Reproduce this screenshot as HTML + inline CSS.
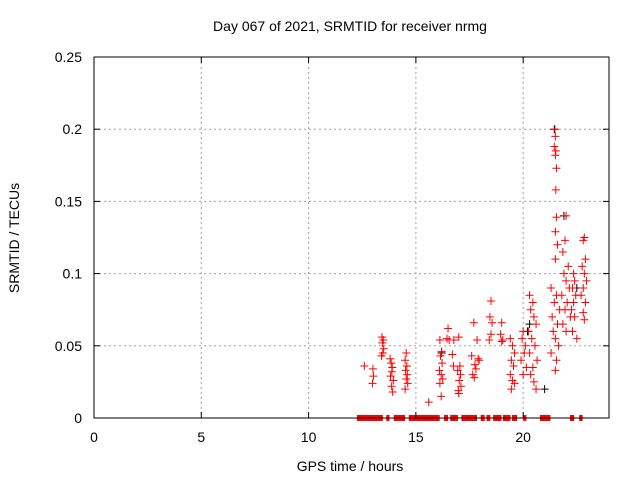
<!DOCTYPE html>
<html><head><meta charset="utf-8"><style>
html,body{margin:0;padding:0;background:#fff;}
svg{display:block;font-family:"Liberation Sans",sans-serif;}
</style></head><body>
<svg id="chart" width="640" height="480" viewBox="0 0 640 480" xmlns="http://www.w3.org/2000/svg">
<rect width="640" height="480" fill="#fff"/>
<text x="350" y="31" font-size="14" text-anchor="middle">Day 067 of 2021, SRMTID for receiver nrmg</text>
<text x="350" y="471" font-size="14" text-anchor="middle">GPS time / hours</text>
<text x="19" y="238" font-size="14" text-anchor="middle" transform="rotate(-90 19 238)">SRMTID / TECUs</text>
<g id="grid"></g><g id="marks"></g><g id="axes"></g>
</svg>
<script>
const xTicks=[0,5,10,15,20];
const xTickLabels=["0","5","10","15","20"];
const yTicks=[0,0.05,0.1,0.15,0.2,0.25];
const yTickLabels=["0","0.05","0.1","0.15","0.2","0.25"];
const redTimes=[12.6,13.0,13.02,12.98,13.42,13.48,13.44,13.5,13.46,13.4,13.8,13.85,13.9,13.88,13.82,13.95,13.87,13.92,14.55,14.5,14.58,14.52,14.6,14.55,14.62,14.5,15.6,16.12,16.2,16.15,16.22,16.1,16.18,16.25,16.12,16.18,16.5,16.45,16.55,16.77,16.7,16.75,17.0,17.05,16.95,17.08,17.02,17.1,16.98,17.0,17.7,17.85,17.6,17.9,17.75,17.8,17.65,17.72,17.95,18.5,18.45,18.55,18.5,18.42,19.0,18.95,19.05,19.0,19.4,19.5,19.6,19.45,19.55,19.4,19.5,19.6,19.45,20.0,19.95,20.1,20.05,19.9,20.15,20.0,20.3,20.45,20.35,20.5,20.6,20.25,20.4,20.55,20.3,20.65,20.45,20.35,20.5,20.6,21.48,21.5,21.45,21.52,21.5,21.55,21.52,21.55,21.5,21.6,21.5,21.3,21.55,21.45,21.7,21.35,21.6,21.4,21.5,21.65,21.3,21.55,21.5,22.0,21.95,21.85,22.1,21.9,22.0,22.15,21.8,22.05,21.95,22.2,21.85,22.0,22.35,22.4,22.3,22.45,22.35,22.25,22.4,22.3,22.5,22.85,22.8,22.9,22.75,22.85,22.95,22.8,22.7,22.9,22.8,22.85];
const redValues=[0.036,0.034,0.029,0.024,0.056,0.054,0.052,0.048,0.045,0.043,0.041,0.038,0.035,0.032,0.029,0.026,0.022,0.018,0.045,0.040,0.036,0.033,0.030,0.027,0.024,0.020,0.011,0.054,0.046,0.043,0.038,0.033,0.030,0.027,0.024,0.015,0.062,0.055,0.054,0.054,0.044,0.036,0.056,0.036,0.033,0.030,0.026,0.022,0.019,0.017,0.066,0.054,0.043,0.041,0.037,0.034,0.030,0.028,0.040,0.081,0.070,0.066,0.058,0.054,0.066,0.058,0.054,0.053,0.055,0.050,0.045,0.040,0.036,0.030,0.026,0.024,0.020,0.060,0.055,0.050,0.045,0.040,0.035,0.030,0.085,0.080,0.075,0.070,0.065,0.060,0.055,0.050,0.045,0.040,0.035,0.030,0.025,0.020,0.200,0.195,0.188,0.185,0.182,0.173,0.158,0.139,0.129,0.120,0.110,0.090,0.085,0.080,0.075,0.070,0.065,0.060,0.055,0.050,0.045,0.040,0.033,0.140,0.123,0.115,0.105,0.100,0.095,0.090,0.085,0.080,0.075,0.070,0.065,0.060,0.100,0.095,0.090,0.085,0.080,0.075,0.070,0.060,0.055,0.125,0.123,0.110,0.105,0.100,0.095,0.090,0.085,0.080,0.073,0.068];
const blackTimes=[21.45,21.9,20.3,21.0,20.2,22.5,16.2];
const blackValues=[0.2,0.14,0.065,0.02,0.06,0.09,0.045];
const zeroStarts=[12.25,13.62,13.97,14.67,16.31,16.6,17.12,18.02,18.29,18.6,19.06,19.48,20.0,20.78,22.18,22.61];
const zeroEnds=[13.46,13.77,14.5,16.11,16.5,16.96,17.85,18.21,18.47,18.99,19.41,19.72,20.15,21.27,22.38,22.77];

const L=94,R=609,T=57,B=418;
const xs=t=>L+(t/24)*(R-L);
const ys=v=>B-(v/0.25)*(B-T);
const NS="http://www.w3.org/2000/svg";
function mk(tag,attrs,parent){const e=document.createElementNS(NS,tag);for(const k in attrs)e.setAttribute(k,attrs[k]);parent.appendChild(e);return e;}
const grid=document.getElementById('grid'),marks=document.getElementById('marks'),axes=document.getElementById('axes');
xTicks.forEach((t,i)=>{
  const x=xs(t);
  if(t>0){const g=mk('line',{x1:x,x2:x,y1:T,y2:B,stroke:'#a0a0a0','stroke-dasharray':'2,3','stroke-width':1},grid);
  
  }
  mk('line',{x1:x,x2:x,y1:B,y2:B-6,stroke:'#000'},axes);
  mk('line',{x1:x,x2:x,y1:T,y2:T+6,stroke:'#000'},axes);
  const tx=mk('text',{x:x,y:B+24,'font-size':14,'text-anchor':'middle'},axes);
  tx.textContent=xTickLabels[i];
  
  
});
yTicks.forEach((v,i)=>{
  const y=ys(v);
  if(v>0&&v<0.25){const g=mk('line',{x1:L,x2:R,y1:y,y2:y,stroke:'#a0a0a0','stroke-dasharray':'2,3','stroke-width':1},grid);
  
  }
  mk('line',{x1:L,x2:L+6,y1:y,y2:y,stroke:'#000'},axes);
  mk('line',{x1:R,x2:R-6,y1:y,y2:y,stroke:'#000'},axes);
  const tx=mk('text',{x:L-12,y:y+5,'font-size':14,'text-anchor':'end'},axes);
  tx.textContent=yTickLabels[i];
  
  
});
const frame=mk('rect',{x:L,y:T,width:R-L,height:B-T,fill:'none',stroke:'#000','stroke-width':1},axes);


function plus(t,v,color,name){
  const x=xs(t),y=ys(v);
  const p=mk('path',{d:`M${x-4},${y}H${x+4}M${x},${y-4}V${y+4}`,stroke:color,'stroke-width':1,fill:'none'},marks);
  
  
}
blackTimes.forEach((t,i)=>plus(t,blackValues[i],'#000','black-point'));
redTimes.forEach((t,i)=>plus(t,redValues[i],'#f00','red-point'));
zeroStarts.forEach((s,i)=>{
  const r=mk('rect',{x:xs(s),y:B-3,width:Math.max(3,xs(zeroEnds[i])-xs(s)),height:6,fill:'#f00'},marks);
  
  
});
</script>
</body></html>
